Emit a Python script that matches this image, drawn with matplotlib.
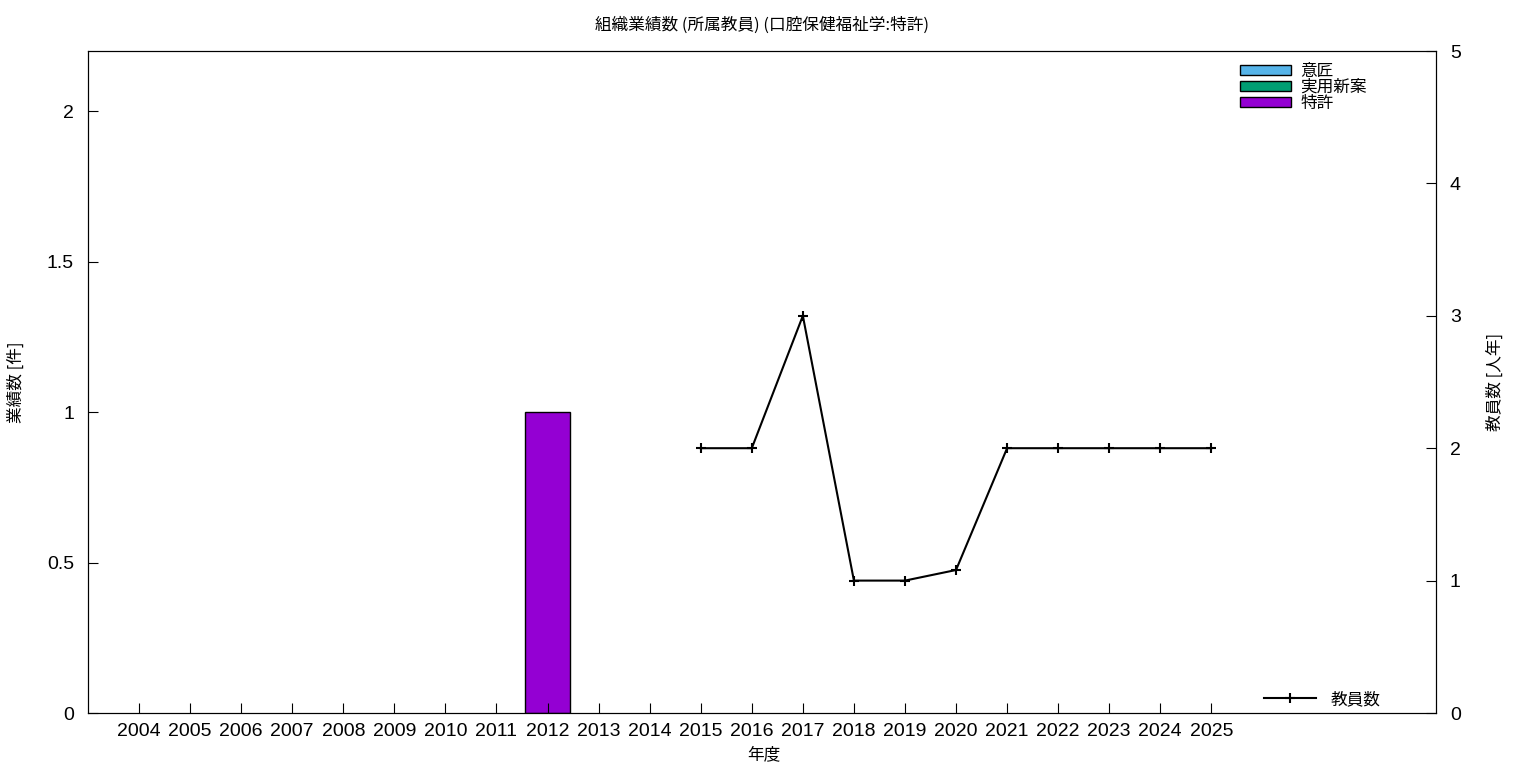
import matplotlib
matplotlib.use('Agg')
import matplotlib.pyplot as plt
from matplotlib.patches import Patch
import numpy as np

plt.rcParams['font.family'] = ['Noto Sans CJK JP', 'DejaVu Sans']

years = list(range(2004, 2026))
design = [0] * 22
utility = [0] * 22
patent = [0, 0, 0, 0, 0, 0, 0, 0, 1, 0, 0, 0, 0, 0, 0, 0, 0, 0, 0, 0, 0, 0]
staff_years = [2015, 2016, 2017, 2018, 2019, 2020, 2021, 2022, 2023, 2024, 2025]
staff = [2, 2, 3, 1, 1, 1.08, 2, 2, 2, 2, 2]
names = ['意匠', '実用新案', '特許']
colors = ['#56b4e9', '#009e73', '#9400d3']

fig = plt.figure(figsize=(15.36, 7.68), dpi=100)
ax = fig.add_axes([88 / 1536, 1 - 713 / 768, (1436 - 88) / 1536, (713 - 51) / 768])
ax2 = ax.twinx()

x = np.array(years)
d = np.array(design)
u = np.array(utility)
p = np.array(patent)
w = 0.88


def edges(vals):
    # gnuplot draws nothing for empty boxes
    return ['black' if v > 0 else 'none' for v in vals]


ax.bar(x, d, w, color=colors[0], edgecolor=edges(d), linewidth=1)
ax.bar(x, u, w, bottom=d, color=colors[1], edgecolor=edges(u), linewidth=1)
ax.bar(x, p, w, bottom=d + u, color=colors[2], edgecolor=edges(p), linewidth=1)

ax2.plot(staff_years, staff, color='black', marker='+', markersize=7, linewidth=1.5,
         markeredgewidth=1.5, label='教員数')

ax.set_xlim(2003, 2029.4)
ax.set_ylim(0, 2.2)
ax2.set_ylim(0, 5)
ax.set_xticks(years)
ax.set_xticklabels([str(y) for y in years])
ax.set_yticks([0, 0.5, 1, 1.5, 2])
ax.set_yticklabels(['0', '0.5', '1', '1.5', '2'])
ax2.set_yticks([0, 1, 2, 3, 4, 5])

ax.tick_params(axis='x', direction='in', length=7, labelsize=14, pad=7)
ax.tick_params(axis='y', direction='in', length=7, labelsize=14, pad=10)
ax2.tick_params(axis='y', direction='in', length=7, labelsize=14, pad=10)
for lab in ax.get_xticklabels() + ax.get_yticklabels() + ax2.get_yticklabels():
    lab.set_family(['Liberation Sans', 'DejaVu Sans'])

ax.set_xlabel('年度', fontsize=12)
ax.set_ylabel('業績数 [件]', fontsize=12)
ax2.set_ylabel('教員数 [人年]', fontsize=12, rotation=90)
ax.xaxis.set_label_coords(0.501, -0.050)
ax.yaxis.set_label_coords(-0.047, 0.5)
ax2.yaxis.set_label_coords(1.0378, 0.5)
ax.set_title('組織業績数 (所属教員) (口腔保健福祉学:特許)', fontsize=12, pad=15)

handles = [Patch(facecolor=c, edgecolor='black', linewidth=1) for c in colors]
leg1 = ax.legend(handles, names, loc='upper right', bbox_to_anchor=(0.960, 1.005), frameon=False,
                 fontsize=12, handlelength=3.1, handleheight=0.55, handletextpad=0.55,
                 labelspacing=-0.05, borderaxespad=0.5)
leg2 = ax2.legend(loc='lower right', bbox_to_anchor=(0.97, -0.015), frameon=False, fontsize=12,
                  handlelength=3.1, handletextpad=0.9)

fig.savefig('out.png', dpi=100)
